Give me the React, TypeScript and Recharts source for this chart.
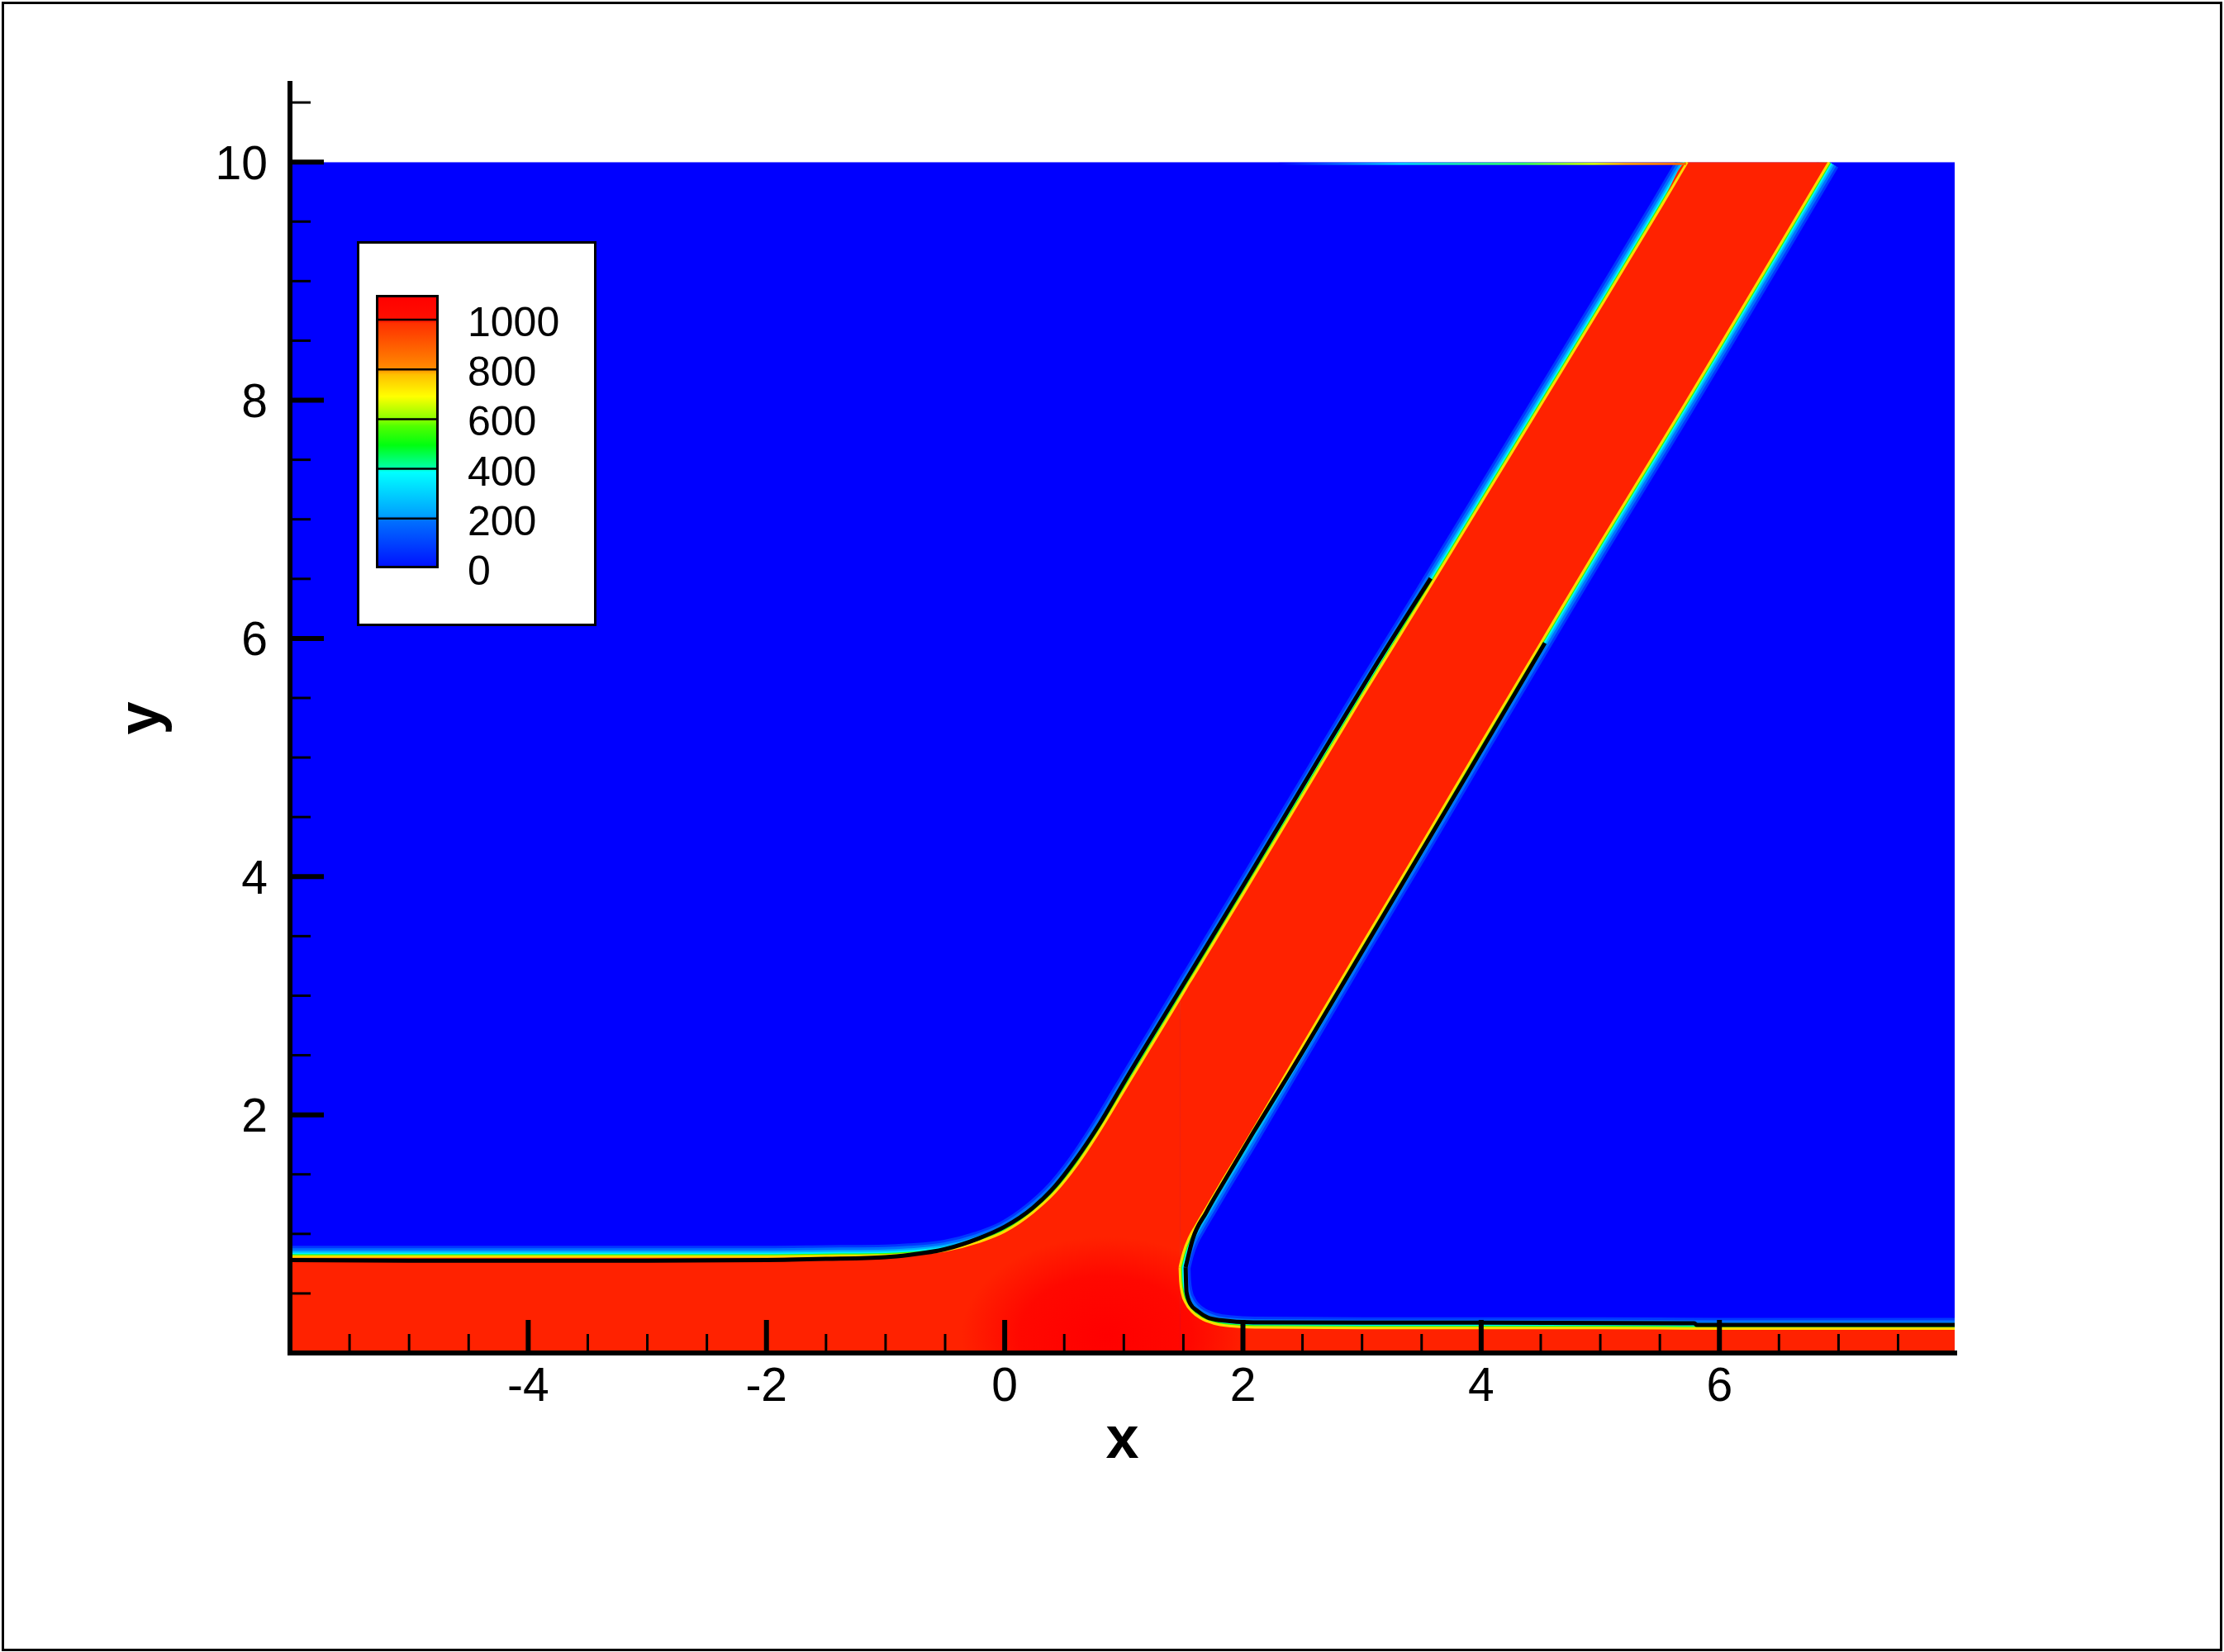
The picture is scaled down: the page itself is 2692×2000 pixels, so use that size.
import React from 'react';
import { ComposedChart, Area, Line, XAxis, YAxis, ReferenceArea, Legend } from 'recharts';

const FONT = "'Liberation Sans', Arial, Helvetica, sans-serif";

// red film on the wall left of the jet: x and top of the film (bottom is the wall)
const floorLeftX = [-6, -5, -4, -3, -2, -1.5, -1, -0.8, -0.5, -0.225, 0, 0.237, 0.422, 0.6, 0.8, 1.0, 1.2, 1.47];
const floorLeftTop = [0.81, 0.81, 0.81, 0.81, 0.81, 0.815, 0.82, 0.83, 0.86, 0.93, 1.02, 1.18, 1.35, 1.57, 1.87, 2.2, 2.53, 2.975];

// jet cross-sections: lower and upper edge at each x
const jetX = [1.47, 1.5, 1.55, 1.6, 1.7, 1.8, 2.0, 2.5, 3.0, 3.5, 4.0, 4.5, 5.0, 5.5, 5.73, 6.0, 6.5, 6.92];
const jetLow = [0.72, 0.84, 0.97, 1.06, 1.23, 1.4, 1.73, 2.58, 3.43, 4.27, 5.12, 5.96, 6.8, 7.62, 8.0, 8.45, 9.29, 10];
const jetHigh = [2.975, 3.025, 3.11, 3.19, 3.355, 3.52, 3.85, 4.68, 5.51, 6.32, 7.14, 7.96, 8.78, 9.61, 10, 10, 10, 10];

// red film on the wall right of the jet
const floorRightX = [1.47, 1.475, 1.49, 1.52, 1.57, 1.65, 1.75, 1.9, 2.1, 3, 4, 5, 6, 7, 7.975];
const floorRightTop = [0.72, 0.6, 0.5, 0.42, 0.35, 0.29, 0.25, 0.225, 0.215, 0.21, 0.21, 0.21, 0.205, 0.205, 0.205];

// black contour lines (upper one, lower one split at the nose)
const contourUpperX = [-6, -5, -4, -3, -2, -1.5, -1, -0.8, -0.5, -0.225, 0, 0.237, 0.422, 0.6, 0.8, 1.0, 1.5, 2.0, 2.663, 3.1, 3.576];
const contourUpperY = [0.78, 0.775, 0.775, 0.775, 0.78, 0.79, 0.805, 0.824, 0.872, 0.96, 1.06, 1.22, 1.4, 1.63, 1.93, 2.27, 3.095, 3.92, 5.03, 5.75, 6.505];
const contourJetX = [1.519, 1.577, 1.693, 1.854, 2.086, 2.386, 3.0, 3.83, 4.535];
const contourJetY = [0.72, 0.951, 1.182, 1.46, 1.85, 2.339, 3.37, 4.77, 5.961];
const contourWallX = [1.519, 1.526, 1.56, 1.623, 1.7, 1.808, 2.086, 3.0, 4.0, 5.79, 5.81, 7.975];
const contourWallY = [0.72, 0.512, 0.41, 0.349, 0.3, 0.275, 0.257, 0.255, 0.255, 0.25, 0.235, 0.235];

// thin seam along the top boundary, left of the jet
const seamX = [2.3, 5.72];
const seamY = [9.985, 9.985];

// axes
const xTicks = [-5.5, -5, -4.5, -4, -3.5, -3, -2.5, -2, -1.5, -1, -0.5, 0, 0.5, 1, 1.5, 2, 2.5, 3, 3.5, 4, 4.5, 5, 5.5, 6, 6.5, 7, 7.5];
const xLabels = [-4, -2, 0, 2, 4, 6];
const yTicks = [0.5, 1, 1.5, 2, 2.5, 3, 3.5, 4, 4.5, 5, 5.5, 6, 6.5, 7, 7.5, 8, 8.5, 9, 9.5, 10, 10.5];
const yLabels = [2, 4, 6, 8, 10];

// contour legend levels
const levels = [1000, 800, 600, 400, 200, 0];

// plot geometry (used for gradients only)
const W = 2692;
const H = 2000;
const M = { top: 101, right: 326, bottom: 0, left: 0 };
const Y_AXIS_W = 351;
const X_AXIS_H = 362;
const X_DOMAIN = [-6, 7.975];
const Y_DOMAIN = [0, 10.66];
const plotLeft = M.left + Y_AXIS_W;
const plotRight = W - M.right;
const plotBottom = H - M.bottom - X_AXIS_H;
const px = (x: number) => plotLeft + ((x - X_DOMAIN[0]) / (X_DOMAIN[1] - X_DOMAIN[0])) * (plotRight - plotLeft);
const py = (y: number) => plotBottom - ((y - Y_DOMAIN[0]) / (Y_DOMAIN[1] - Y_DOMAIN[0])) * (plotBottom - M.top);

const floorLeftRows = floorLeftX.map((x, i) => ({ x, r: [0, floorLeftTop[i]] }));
const jetRows = jetX.map((x, i) => ({ x, r: [jetLow[i], jetHigh[i]] }));
const floorRightRows = floorRightX.map((x, i) => ({ x, r: [0, floorRightTop[i]] }));

const upperEdge = [
  ...floorLeftX.map((x, i) => ({ x, y: floorLeftTop[i] })),
  ...jetX.map((x, i) => ({ x, y: jetHigh[i], keep: i > 0 && jetHigh[i - 1] < 10 })).filter(p => p.keep),
];
const jetLowerEdge = jetX.map((x, i) => ({ x, y: jetLow[i] }));
const wallEdge = floorRightX.map((x, i) => ({ x, y: floorRightTop[i] }));
const edges = [upperEdge, jetLowerEdge, wallEdge];

const contours = [
  contourUpperX.map((x, i) => ({ x, y: contourUpperY[i] })),
  contourJetX.map((x, i) => ({ x, y: contourJetY[i] })),
  contourWallX.map((x, i) => ({ x, y: contourWallY[i] })),
];
const seam = seamX.map((x, i) => ({ x, y: seamY[i] }));

const halos = [
  { color: '#0038FF', width: 26 },
  { color: '#0070FF', width: 20 },
  { color: '#00B0FF', width: 14 },
  { color: '#00F0FF', width: 9.5 },
  { color: '#30FF00', width: 5.5 },
];

const XTick = (props: any) => {
  const { x, y, payload } = props;
  const major = xLabels.includes(payload.value);
  return (
    <g>
      <line x1={x} x2={x} y1={y} y2={y - (major ? 40 : 23)} stroke="#000" strokeWidth={major ? 6 : 3} />
      {major && (
        <text x={x} y={y + 58} textAnchor="middle" fontSize={57} fontFamily={FONT} fill="#000">
          {payload.value}
        </text>
      )}
    </g>
  );
};

const YTick = (props: any) => {
  const { x, y, payload } = props;
  const major = yLabels.includes(payload.value);
  return (
    <g>
      <line x1={x} x2={x + (major ? 41 : 25)} y1={y} y2={y} stroke="#000" strokeWidth={major ? 6 : 3} />
      {major && (
        <text x={x - 27} y={y + 20.5} textAnchor="end" fontSize={57} fontFamily={FONT} fill="#000">
          {payload.value}
        </text>
      )}
    </g>
  );
};

const XTitle = (props: any) => {
  const vb = props.viewBox;
  return (
    <text x={vb.x + vb.width / 2} y={vb.y + 127} textAnchor="middle" fontSize={72} fontWeight="bold" fontFamily={FONT} fill="#000">
      x
    </text>
  );
};

const YTitle = (props: any) => {
  const vb = props.viewBox;
  const cx = vb.x + 193;
  const cy = vb.y + vb.height / 2;
  return (
    <text x={cx} y={cy} transform={`rotate(-90, ${cx}, ${cy})`} textAnchor="middle" fontSize={72} fontWeight="bold" fontFamily={FONT} fill="#000">
      y
    </text>
  );
};

const ColorBar = () => {
  const barTop = 65;
  const topBand = 30;
  const seg = 60.2;
  return (
    <svg width={290} height={466} style={{ display: 'block' }}>
      <defs>
        <linearGradient id="cbar" x1="0" y1="0" x2="0" y2="1">
          <stop offset="0" stopColor="#FF0000" />
          <stop offset="0.09" stopColor="#FF1000" />
          <stop offset="0.1" stopColor="#FF3000" />
          <stop offset="0.27" stopColor="#FF8C00" />
          <stop offset="0.29" stopColor="#FFC000" />
          <stop offset="0.37" stopColor="#FFFF00" />
          <stop offset="0.46" stopColor="#80FF00" />
          <stop offset="0.48" stopColor="#50FF00" />
          <stop offset="0.55" stopColor="#00FF10" />
          <stop offset="0.63" stopColor="#00FFA0" />
          <stop offset="0.65" stopColor="#00FFFF" />
          <stop offset="0.81" stopColor="#00A0FF" />
          <stop offset="0.83" stopColor="#0070FF" />
          <stop offset="1" stopColor="#0010FF" />
        </linearGradient>
      </defs>
      <rect x={1.5} y={1.5} width={287} height={463} fill="#fff" stroke="#000" strokeWidth={3} />
      <rect x={24.5} y={barTop + 1.5} width={73} height={328} fill="url(#cbar)" stroke="#000" strokeWidth={3} />
      {levels.map((lv, i) => {
        const ly = barTop + topBand + i * seg;
        return (
          <g key={lv}>
            {i < levels.length - 1 && <line x1={24} x2={98} y1={ly} y2={ly} stroke="#000" strokeWidth={2.5} />}
            <text x={134} y={ly + 20} fontSize={50} fontFamily={FONT} fill="#000">
              {lv}
            </text>
          </g>
        );
      })}
    </svg>
  );
};

export default function App() {
  const cx = px(0.85);
  const cy = py(0.15);
  return (
    <div style={{ position: 'absolute', left: 0, top: 0, width: W, height: H, background: '#fff' }}>
      <div
        style={{
          position: 'absolute',
          left: 2,
          top: 2,
          width: 2688,
          height: 1997,
          border: '3px solid #000',
          boxSizing: 'border-box',
        }}
      />
      <ComposedChart width={W} height={H} margin={M}>
        <defs>
          <radialGradient
            id="core"
            gradientUnits="userSpaceOnUse"
            cx={cx}
            cy={cy}
            r={175}
            gradientTransform={`translate(${cx} ${cy}) scale(1 0.68) translate(${-cx} ${-cy})`}
          >
            <stop offset="0" stopColor="#FF0000" />
            <stop offset="0.6" stopColor="#FF0800" />
            <stop offset="1" stopColor="#FF2200" />
          </radialGradient>
          <linearGradient id="seam" gradientUnits="userSpaceOnUse" x1={px(seamX[0])} y1={0} x2={px(seamX[1])} y2={0}>
            <stop offset="0" stopColor="#0000FF" />
            <stop offset="0.3" stopColor="#00C8FF" />
            <stop offset="0.6" stopColor="#30FF60" />
            <stop offset="0.77" stopColor="#D0FF00" />
            <stop offset="0.85" stopColor="#FFA000" />
            <stop offset="1" stopColor="#FF6000" />
          </linearGradient>
        </defs>
        <ReferenceArea x1={-6} x2={7.975} y1={0} y2={10} fill="#0000FF" fillOpacity={1} stroke="none" zIndex={110} />
        {edges.map((edge, k) =>
          halos.map(h => (
            <Line
              key={`halo-${k}-${h.width}`}
              data={edge}
              dataKey="y"
              type="monotoneX"
              stroke={h.color}
              strokeWidth={h.width}
              dot={false}
              activeDot={false}
              isAnimationActive={false}
              zIndex={120}
            />
          )),
        )}
        <Area data={floorLeftRows} dataKey="r" type="monotoneX" fill="url(#core)" fillOpacity={1} stroke="none" isAnimationActive={false} zIndex={130} />
        <Area data={jetRows} dataKey="r" type="monotoneX" fill="url(#core)" fillOpacity={1} stroke="none" isAnimationActive={false} zIndex={130} />
        <Area data={floorRightRows} dataKey="r" type="monotoneX" fill="url(#core)" fillOpacity={1} stroke="none" isAnimationActive={false} zIndex={130} />
        {edges.map((edge, k) => (
          <Line
            key={`edge-${k}`}
            data={edge}
            dataKey="y"
            type="monotoneX"
            stroke="#FFD800"
            strokeWidth={3}
            dot={false}
            activeDot={false}
            isAnimationActive={false}
            zIndex={140}
          />
        ))}
        <Line data={seam} dataKey="y" type="linear" stroke="url(#seam)" strokeWidth={3} dot={false} activeDot={false} isAnimationActive={false} zIndex={140} />
        {contours.map((c, k) => (
          <Line
            key={`contour-${k}`}
            data={c}
            dataKey="y"
            type="monotoneX"
            stroke="#000"
            strokeWidth={5}
            dot={false}
            activeDot={false}
            isAnimationActive={false}
            zIndex={150}
          />
        ))}
        <ReferenceArea x1={-6} x2={7.975} y1={10} y2={10.66} fill="#FFFFFF" fillOpacity={1} stroke="none" zIndex={160} />
        <XAxis
          type="number"
          dataKey="x"
          domain={X_DOMAIN}
          allowDataOverflow
          ticks={xTicks}
          interval={0}
          tickSize={0}
          tickMargin={0}
          tickLine={false}
          tick={(p: any) => <XTick {...p} />}
          axisLine={{ stroke: '#000', strokeWidth: 6, strokeLinecap: 'square' }}
          height={X_AXIS_H}
          label={{ content: (p: any) => <XTitle {...p} /> }}
          zIndex={170}
        />
        <YAxis
          type="number"
          domain={Y_DOMAIN}
          allowDataOverflow
          ticks={yTicks}
          interval={0}
          tickSize={0}
          tickMargin={0}
          tickLine={false}
          tick={(p: any) => <YTick {...p} />}
          axisLine={{ stroke: '#000', strokeWidth: 6, strokeLinecap: 'square' }}
          width={Y_AXIS_W}
          label={{ content: (p: any) => <YTitle {...p} /> }}
          zIndex={170}
        />
        <Legend
          layout="horizontal"
          verticalAlign="middle"
          align="center"
          content={() => <ColorBar />}
          wrapperStyle={{ left: 432, top: 292, width: 290, height: 466 }}
        />
      </ComposedChart>
    </div>
  );
}
